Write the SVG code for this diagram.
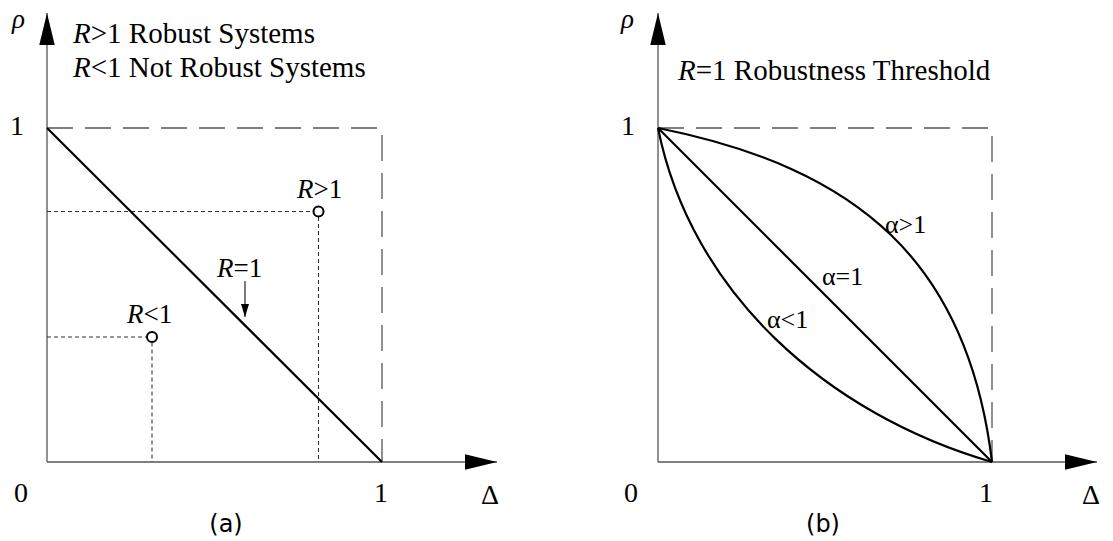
<svg xmlns="http://www.w3.org/2000/svg" width="1113" height="541" viewBox="0 0 1113 541">
<style>
.ser{font-family:'Liberation Serif','DejaVu Serif',serif;fill:#000}
.sans{font-family:'DejaVu Sans',Verdana,sans-serif;fill:#000}
.it{font-style:italic}
.axis{stroke:#555;stroke-width:1.3;fill:none}
.frame{stroke:#555;stroke-width:1.3;fill:none;stroke-dasharray:26 12}
.guide{stroke:#333;stroke-width:1.1;fill:none;stroke-dasharray:4 3}
.curve{stroke:#000;stroke-width:2.2;fill:none}
.pt{stroke:#000;stroke-width:2;fill:#fff}
</style>
<defs>
<marker id="axArrow" markerUnits="userSpaceOnUse" markerWidth="32" markerHeight="16" viewBox="0 0 31 15" refX="31" refY="7.5" orient="auto">
<path d="M0,0 L31,7.5 L0,15 z" fill="#000"/>
</marker>
<marker id="smArrow" markerUnits="userSpaceOnUse" markerWidth="13" markerHeight="8" viewBox="0 0 13 8" refX="13" refY="4" orient="auto">
<path d="M0,0 L13,4 L0,8 z" fill="#000"/>
</marker>
</defs>
<rect width="1113" height="541" fill="#fff"/>

<g id="panel-a">
<g id="a-axes">
<line class="axis" x1="47" y1="462" x2="47" y2="13" marker-end="url(#axArrow)"/>
<line class="axis" x1="47" y1="462" x2="497" y2="462" marker-end="url(#axArrow)"/>
<polyline class="frame" points="47,128 382,128 382,462"/>
</g>
<g id="a-guides">
<line class="guide" x1="47" y1="211.5" x2="313" y2="211.5"/>
<line class="guide" x1="318.5" y1="217" x2="318.5" y2="462"/>
<line class="guide" x1="47" y1="337" x2="146.5" y2="337"/>
<line class="guide" x1="152" y1="342.5" x2="152" y2="462"/>
</g>
<line id="a-threshold" class="curve" x1="47" y1="128" x2="382" y2="462"/>
<g id="a-point-high"><circle class="pt" cx="318.5" cy="211.5" r="5"/><text class="ser" font-family="Liberation Serif, serif" x="297" y="198" font-size="27"><tspan class="it">R</tspan>&gt;1</text></g>
<g id="a-point-low"><circle class="pt" cx="152" cy="337" r="5"/><text class="ser" font-family="Liberation Serif, serif" x="127" y="323" font-size="27"><tspan class="it">R</tspan>&lt;1</text></g>
<g id="a-r1-label">
<text class="ser" font-family="Liberation Serif, serif" x="217" y="277" font-size="27"><tspan class="it">R</tspan>=1</text>
<line x1="245" y1="281" x2="245" y2="317" stroke="#333" stroke-width="1.3" marker-end="url(#smArrow)"/>
</g>
<g id="a-labels" font-family="Liberation Serif, serif">
<text class="ser it" x="12" y="28" font-size="27">ρ</text>
<text class="ser" x="73" y="43" font-size="29"><tspan class="it">R</tspan>&gt;1 Robust Systems</text>
<text class="ser" x="73" y="77" font-size="29"><tspan class="it">R</tspan>&lt;1 Not Robust Systems</text>
<text class="ser" x="17" y="135" font-size="28" text-anchor="middle">1</text>
<text class="ser" x="21" y="502" font-size="28" text-anchor="middle">0</text>
<text class="ser" x="381" y="502" font-size="28" text-anchor="middle">1</text>
<text class="ser" x="490" y="504" font-size="28" text-anchor="middle">Δ</text>
<text class="sans" x="226" y="532" font-size="24" text-anchor="middle">(a)</text>
</g>
</g>

<g id="panel-b">
<g id="b-axes">
<line class="axis" x1="658" y1="462" x2="658" y2="13" marker-end="url(#axArrow)"/>
<line class="axis" x1="658" y1="462" x2="1097" y2="462" marker-end="url(#axArrow)"/>
<polyline class="frame" points="658,128 992,128 992,462"/>
</g>
<g id="b-curves">
<path id="b-alpha-gt1" class="curve" d="M658,128 C858,168 968,262 992,462"/>
<path id="b-alpha-eq1" class="curve" d="M658,128 L992,462"/>
<path id="b-alpha-lt1" class="curve" d="M658,128 C691,293 827,414 992,462"/>
</g>
<g id="b-labels" font-family="Liberation Serif, serif">
<text class="ser it" x="621" y="28" font-size="27">ρ</text>
<text class="ser" x="678" y="80" font-size="29"><tspan class="it">R</tspan>=1 Robustness Threshold</text>
<text class="ser" x="628" y="135" font-size="28" text-anchor="middle">1</text>
<text class="ser" x="631" y="502" font-size="28" text-anchor="middle">0</text>
<text class="ser" x="986" y="502" font-size="28" text-anchor="middle">1</text>
<text class="ser" x="1091" y="504" font-size="28" text-anchor="middle">Δ</text>
<text class="ser" x="885" y="233" font-size="26">α&gt;1</text>
<text class="ser" x="822" y="285" font-size="26">α=1</text>
<text class="ser" x="767" y="328" font-size="26">α&lt;1</text>
<text class="sans" x="823" y="532" font-size="24" text-anchor="middle">(b)</text>
</g>
</g>
</svg>
